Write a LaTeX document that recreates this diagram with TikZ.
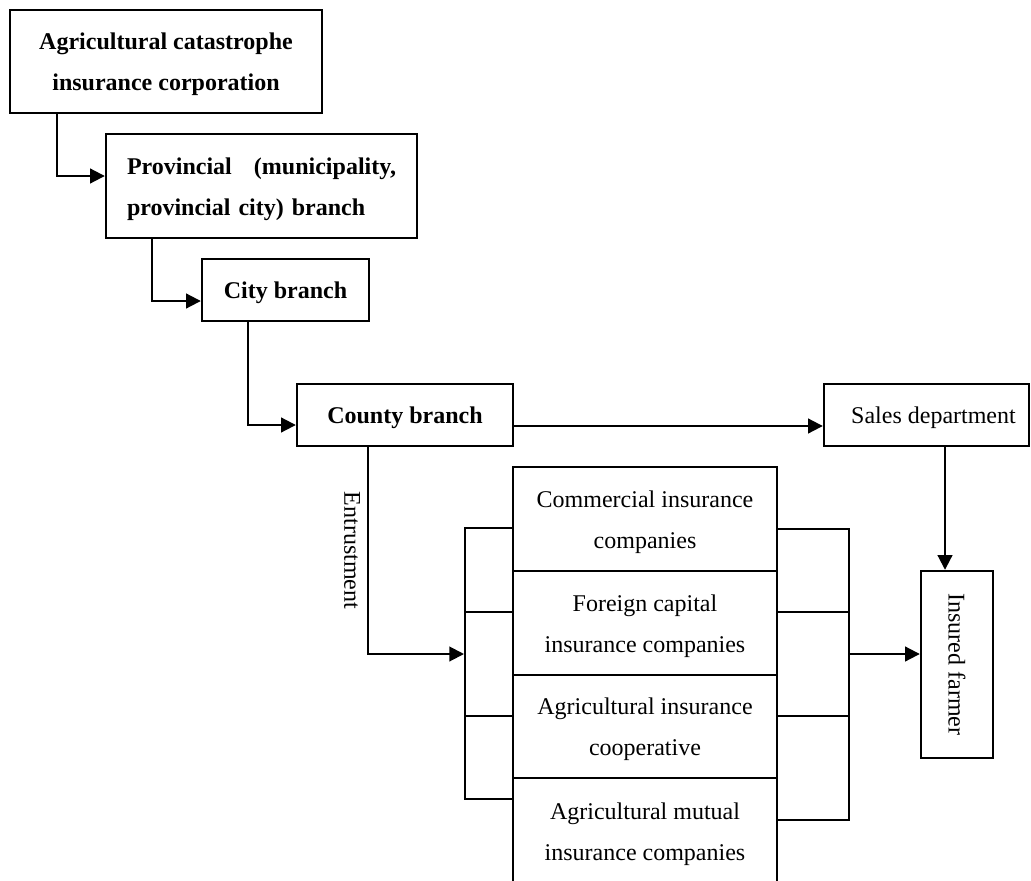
\documentclass[tikz,border=0pt]{standalone}
\usepackage{fontspec}
\setmainfont{Liberation Serif}
\usetikzlibrary{arrows.meta}
\newlength\unitpx
\setlength\unitpx{0.75pt}
% raises the first line of a box a little above its natural height
\newcommand\boxlift{\rule{0pt}{23\unitpx}}
\begin{document}
\begin{tikzpicture}[x=0.75pt,y=-0.75pt,
  txt/.style={font=\fontsize{18}{30.75}\selectfont},
  box/.style={draw,line width=1.8pt,inner sep=0pt,align=center,txt},
  boldbox/.style={box,font=\fontsize{18}{30.75}\selectfont\bfseries},
  sidebox/.style={draw,line width=1.5pt,inner sep=0pt},
  arr/.style={line width=1.5pt,-{Triangle[length=11pt,width=11pt]}}]
\useasboundingbox (0,0) rectangle (1031,881);
\clip (0,0) rectangle (1031,881);

% chain of branches
\node[boldbox,minimum width=312\unitpx,minimum height=103\unitpx] (corp) at (166,61.5)
  {\boxlift Agricultural catastrophe\\insurance corporation};
\node[boldbox,align=left,text width=269\unitpx,minimum width=311\unitpx,minimum height=104\unitpx] (prov) at (261.5,186)
  {\boxlift\makebox[269\unitpx][s]{Provincial\hfill(municipality,}\\\mbox{provincial city) branch}};
\node[boldbox,minimum width=167\unitpx,minimum height=62\unitpx] (city) at (285.5,290) {\boxlift City branch};
\node[boldbox,minimum width=216\unitpx,minimum height=62\unitpx] (county) at (405,415) {\boxlift County branch};
\node[box,minimum width=205\unitpx,minimum height=62\unitpx] (sales) at (926.5,415) {\boxlift\hspace*{14\unitpx}Sales department};

% entrusted insurers
\node[box,minimum width=264\unitpx,minimum height=104\unitpx] (s1) at (645,519) {\boxlift Commercial insurance\\companies};
\node[box,minimum width=264\unitpx,minimum height=104\unitpx] (s2) at (645,623) {\boxlift Foreign capital\\insurance companies};
\node[box,minimum width=264\unitpx,minimum height=103\unitpx] (s3) at (645,726.5) {\boxlift Agricultural insurance\\cooperative};
\node[box,minimum width=264\unitpx,minimum height=106\unitpx] (s4) at (645,831) {\boxlift Agricultural mutual\\insurance companies};

% side columns
\node[sidebox,minimum width=48\unitpx,minimum height=84\unitpx] (l1) at (489,570) {};
\node[sidebox,minimum width=48\unitpx,minimum height=104\unitpx] (l2) at (489,664) {};
\node[sidebox,minimum width=48\unitpx,minimum height=83\unitpx] (l3) at (489,757.5) {};
\node[sidebox,minimum width=72\unitpx,minimum height=83\unitpx] (r1) at (813,570.5) {};
\node[sidebox,minimum width=72\unitpx,minimum height=104\unitpx] (r2) at (813,664) {};
\node[sidebox,minimum width=72\unitpx,minimum height=104\unitpx] (r3) at (813,768) {};

% insured farmer
\node[box,minimum width=72\unitpx,minimum height=187\unitpx] (farmer) at (957,664.5) {};
\node[txt,rotate=-90] (farmertext) at (farmer.center) {Insured farmer};

% connector end points
\coordinate (l2in) at ([yshift=10\unitpx]l2.west);
\coordinate (entr) at ([xshift=72\unitpx]county.south west);
\coordinate (salesout) at ([xshift=18.5\unitpx]sales.south);
\coordinate (rout) at ([yshift=10\unitpx]r2.east);

% connectors
\draw[arr] ([xshift=48\unitpx]corp.south west) |- ([yshift=10\unitpx]prov.west);
\draw[arr] ([xshift=47\unitpx]prov.south west) |- ([yshift=-11\unitpx]city.west);
\draw[arr] ([xshift=47\unitpx]city.south west) |- ([yshift=-10\unitpx]county.west);
\draw[arr] ([yshift=-11\unitpx]county.east) -- ([yshift=-11\unitpx]sales.west);
\draw[arr] (salesout) -- (salesout |- farmer.north);
\draw[arr] (entr)
  -- node[txt,midway,rotate=-90,anchor=north,inner sep=5pt] (entrtext) {Entrustment}
  (entr |- l2in) -- (l2in);
\draw[arr] (rout) -- (rout -| farmer.west);
\end{tikzpicture}
\end{document}
